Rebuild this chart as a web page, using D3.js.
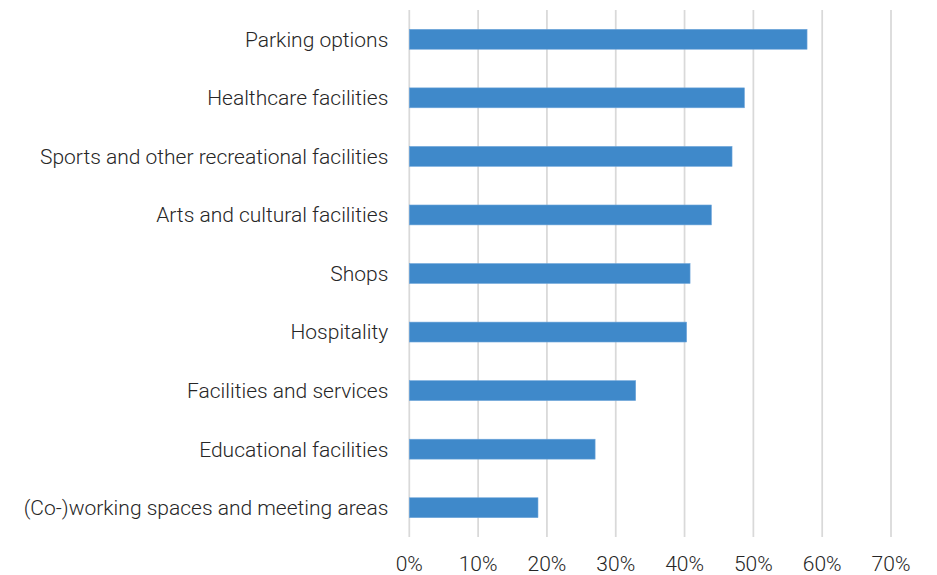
<!DOCTYPE html>
<html>
<head>
<meta charset="utf-8">
<script src="https://cdn.jsdelivr.net/npm/d3@7"></script>
<style>
  html, body { margin: 0; padding: 0; background: #fff; }
  svg text { font-family: Roboto, "Liberation Sans", sans-serif; font-weight: 300; fill: #262626; }
</style>
</head>
<body>
<svg id="chart" width="937" height="575"></svg>
<script>
// Share of respondents per amenity
const categories = [
  "Parking options",
  "Healthcare facilities",
  "Sports and other recreational facilities",
  "Arts and cultural facilities",
  "Shops",
  "Hospitality",
  "Facilities and services",
  "Educational facilities",
  "(Co-)working spaces and meeting areas"
];
const values = [0.578, 0.487, 0.469, 0.439, 0.408, 0.403, 0.329, 0.270, 0.187];
const tickValues = [0, 0.1, 0.2, 0.3, 0.4, 0.5, 0.6, 0.7];

const svg = d3.select("#chart");
const margin = { top: 10, left: 409.3, right: 46, bottom: 38 };
const width = 937, height = 575;

const x = d3.scaleLinear().domain([0, 0.7]).range([margin.left, width - margin.right]);
const y = d3.scaleBand().domain(categories).range([margin.top, height - margin.bottom]).paddingInner(0.66).paddingOuter(0.33);

// vertical gridlines
svg.append("g")
  .selectAll("line")
  .data(tickValues)
  .join("line")
  .attr("x1", d => x(d)).attr("x2", d => x(d))
  .attr("y1", margin.top).attr("y2", height - margin.bottom)
  .attr("stroke", "#d9d9d9").attr("stroke-width", 1.75);

// bars
svg.append("g")
  .selectAll("rect")
  .data(values)
  .join("rect")
  .attr("x", x(0))
  .attr("y", (d, i) => y(categories[i]))
  .attr("width", d => x(d) - x(0))
  .attr("height", y.bandwidth())
  .attr("fill", "#3f89ca")
  .attr("stroke", "#6fa6da").attr("stroke-width", 0.6);

// category labels
svg.append("g")
  .selectAll("text")
  .data(categories)
  .join("text")
  .attr("x", x(0) - 21)
  .attr("y", d => y(d) + y.bandwidth() / 2)
  .attr("dy", "0.35em")
  .attr("text-anchor", "end")
  .attr("font-size", 21)
  .text(d => d);

// x axis tick labels
const fmt = d3.format(".0%");
svg.append("g")
  .selectAll("text")
  .data(tickValues)
  .join("text")
  .attr("x", d => x(d))
  .attr("y", 564)
  .attr("dy", "0.35em")
  .attr("text-anchor", "middle")
  .attr("font-size", 21)
  .text(d => fmt(d));
</script>
</body>
</html>
